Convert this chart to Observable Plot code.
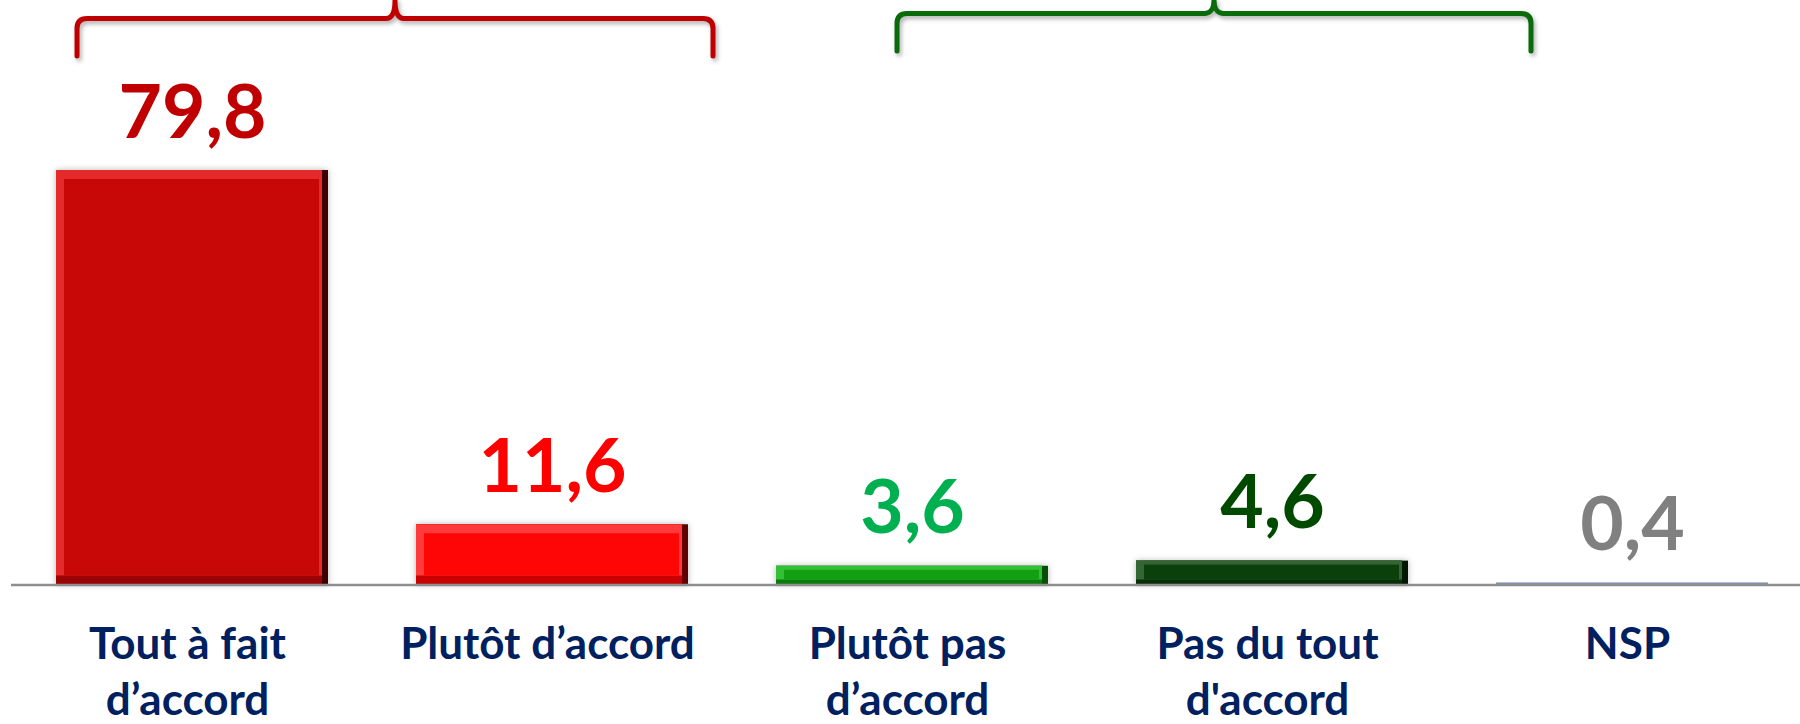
<!DOCTYPE html>
<html>
<head>
<meta charset="utf-8">
<script src="https://cdn.jsdelivr.net/npm/d3@7"></script>
<script src="https://cdn.jsdelivr.net/npm/@observablehq/plot@0.6"></script>
<style>
  html, body { margin: 0; padding: 0; background: #ffffff; overflow: hidden; }
  .bar-shadow { filter: drop-shadow(0px 0px 3px rgba(0,0,0,0.28)); }
  .bracket { filter: drop-shadow(2px 3px 2px rgba(0,0,0,0.30)); }
</style>
</head>
<body>
<div id="chart"></div>
<script>
// ---- data ----
const categories = ["Tout à fait d’accord", "Plutôt d’accord", "Plutôt pas d’accord", "Pas du tout d'accord", "NSP"];
const tickLabels = ["Tout à fait\nd’accord", "Plutôt d’accord", "Plutôt pas\nd’accord", "Pas du tout\nd'accord", "NSP"];
const values = [79.8, 11.6, 3.6, 4.6, 0.4];

// ---- styles ----
const mainColors  = ["#C80707", "#FF0606", "#12A012", "#0B3F0B", "#7D92B2"];
const lightColors = ["#E42A2A", "#FF3A3A", "#34C034", "#336633", "#7D92B2"];
const midColors   = ["#9A0404", "#C80202", "#0C7A0C", "#072E07", "#7D92B2"];
const darkColors  = ["#3E0000", "#600000", "#064F06", "#021602", "#7D92B2"];
const labelColors = ["#C00000", "#FF0000", "#00B050", "#004A00", "#808080"];
const brackets = [
  {first: 0, last: 1, startOffset: 21, endOffset: 25, yLine: 18.5, yLeg: 56, color: "#C00000"},
  {first: 2, last: 3, startOffset: 121, endOffset: 123, yLine: 13.5, yLeg: 51, color: "#0A6B0A"}
];

const rows = categories.map((c, i) => ({
  category: c,
  value: values[i],
  tick: tickLabels[i],
  text: values[i].toFixed(1).replace(".", ","),
  main: mainColors[i], light: lightColors[i], mid: midColors[i], dark: darkColors[i], label: labelColors[i]
}));
const big = rows.filter(d => d.value >= 10);
const small = rows.filter(d => d.value > 1 && d.value < 10);
const flat = rows.filter(d => d.value <= 1);

const font = "Lato, 'Open Sans', sans-serif";

const plot = Plot.plot({
  width: 1800,
  height: 724,
  marginLeft: 11,
  marginRight: 0,
  marginTop: 0,
  marginBottom: 0,
  style: {background: "#ffffff", fontFamily: font},
  x: {axis: null, domain: categories, range: [12, 1812], paddingInner: 0.244, paddingOuter: 0.122},
  y: {axis: null, domain: [0, 100], range: [584.5, 65.1]},
  color: {type: "identity"},
  marks: [
    // bevel base (dark right edge)
    Plot.barY(rows.filter(d => d.value > 1), {x: "category", y: "value", fill: "dark", className: "bar-shadow"}),
    // bottom bevel (mid shade)
    Plot.barY(rows.filter(d => d.value > 1), {x: "category", y: "value", fill: "mid", insetRight: 6}),
    // top/left highlight
    Plot.barY(big, {x: "category", y: "value", fill: "light", insetRight: 6, insetBottom: 9}),
    Plot.barY(small, {x: "category", y: "value", fill: "light", insetRight: 6, insetBottom: 5}),
    // faces
    Plot.barY(big, {x: "category", y: "value", fill: "main", insetTop: 9, insetLeft: 8, insetRight: 9, insetBottom: 9}),
    Plot.barY(small, {x: "category", y: "value", fill: "main", insetTop: 4, insetLeft: 8, insetRight: 9, insetBottom: 5}),
    Plot.barY(flat, {x: "category", y: "value", fill: "main"}),
    // axis line
    Plot.ruleY([0], {stroke: "#8E8E8E", strokeWidth: 2.5}),
    // value labels
    Plot.text(rows, {
      x: "category", y: "value", text: "text", fill: "label",
      lineAnchor: "bottom", dy: -33, fontSize: 75, fontWeight: 700, fontFamily: font
    }),
    // category labels
    Plot.text(rows, {
      x: "category", y: () => 0, text: "tick", fill: "#002060",
      lineAnchor: "top", dy: 34, dx: -5, fontSize: 44, fontWeight: 700,
      lineHeight: 1.28, fontFamily: font
    })
  ]
});

document.getElementById("chart").appendChild(plot);

// ---- brackets (annotations), placed from the x scale ----
const xs = plot.scale("x");
const bw = xs.bandwidth;
const svg = d3.select(plot);
const g = svg.append("g").attr("fill", "none").attr("stroke-width", 5)
  .attr("stroke-linecap", "round").attr("stroke-linejoin", "round");
for (const b of brackets) {
  const x0 = xs.apply(categories[b.first]) + b.startOffset;
  const x1 = xs.apply(categories[b.last]) + bw + b.endOffset;
  const xm = (x0 + x1) / 2;
  const yl = b.yLine, yb = b.yLeg, r = 10;
  const p = d3.path();
  p.moveTo(x0, yb);
  p.lineTo(x0, yl + r);
  p.quadraticCurveTo(x0, yl, x0 + r, yl);
  p.lineTo(xm - 9, yl);
  p.bezierCurveTo(xm - 3, yl, xm, yl - 6, xm, 0);
  p.bezierCurveTo(xm, yl - 6, xm + 3, yl, xm + 9, yl);
  p.lineTo(x1 - r, yl);
  p.quadraticCurveTo(x1, yl, x1, yl + r);
  p.lineTo(x1, yb);
  g.append("path").attr("class", "bracket").attr("d", p.toString()).attr("stroke", b.color);
}
</script>
</body>
</html>
